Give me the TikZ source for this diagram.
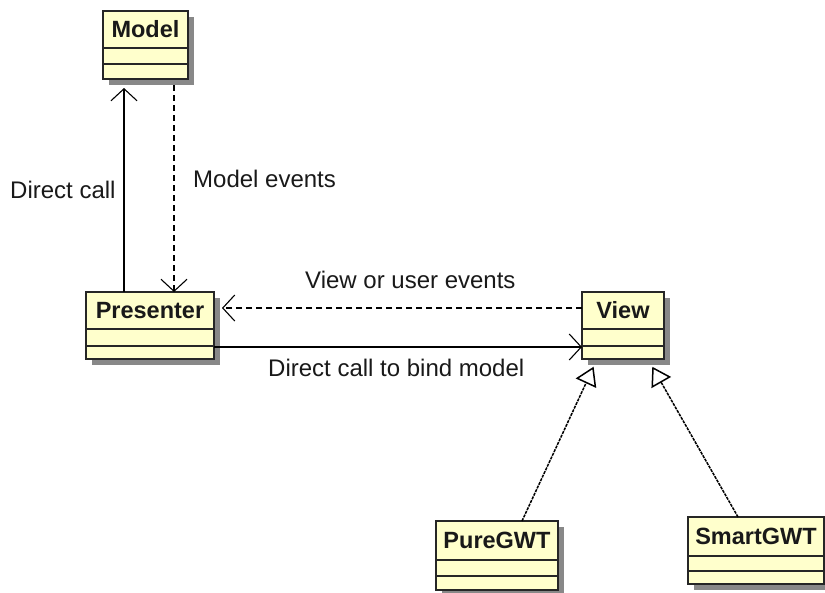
\documentclass[tikz,border=0pt]{standalone}
\usepackage{fontspec}
\setmainfont{Liberation Sans}
\usetikzlibrary{calc,arrows.meta,shadows}
\definecolor{classfill}{RGB}{255,255,204}
\definecolor{shadowgray}{RGB}{136,136,136}
\tikzset{
  classbox/.style={draw=black!85, line width=1.4pt, fill=classfill, outer sep=0pt, inner sep=0pt,
    drop shadow={shadow xshift=6pt, shadow yshift=-6pt, fill=shadowgray, opacity=1}},
  classname/.style={font=\fontsize{23.5}{28}\selectfont\bfseries, inner sep=0pt, text=black!90},
  classline/.style={draw=black!85, line width=1.4pt},
  lbl/.style={font=\fontsize{24}{28}\selectfont, inner sep=0pt, anchor=west, text=black!90},
  assoc/.style={line width=1.3pt, -{Straight Barb[length=12pt,width=26pt,line width=1.1pt]}},
  dep/.style={assoc, dash pattern=on 6pt off 4pt},
  realizeline/.style={line width=1.5pt, dash pattern=on 3pt off 1pt},
  trihead/.style={draw=black, line width=1.5pt, fill=white, line join=miter},
}
\newcommand{\umlclass}[8]{%
  \node[classbox, minimum width=#5pt, minimum height=#6pt+#7pt+#8pt, anchor=north west] (#1) at (#3pt,-#4pt) {};
  \node[classname] (#1-t) at ($(#1.north)+(0,-#6pt/2)$) {#2};
  \draw[classline] ($(#1.north west)+(0,-#6pt)$) -- ($(#1.north east)+(0,-#6pt)$);
  \draw[classline] ($(#1.north west)+(0,-#6pt-#7pt)$) -- ($(#1.north east)+(0,-#6pt-#7pt)$);
}
\begin{document}
\begin{tikzpicture}
\useasboundingbox (0,0) rectangle (825pt,-592pt);
\umlclass{model}{Model}{103}{11}{85}{37}{16}{15}
\umlclass{presenter}{Presenter}{86}{292}{128}{37}{17}{13}
\umlclass{view}{View}{582}{292}{82}{37}{17}{13}
\umlclass{pure}{PureGWT}{436}{521}{122}{39}{16}{14}
\umlclass{smart}{SmartGWT}{688}{517}{136}{39}{15}{13}

% associations
\draw[assoc] ($(presenter.north west)+(38pt,0)$) -- ($(model.south west)+(21pt,-9pt)$);
\draw[dep] ($(model.south west)+(71pt,-6pt)$) -- ($(presenter.north west)+(88pt,0)$);
\draw[dep] ($(view.north west)+(0,-16pt)$) -- ($(presenter.north east)+(8pt,-16pt)$);
\draw[assoc] ($(presenter.north east)+(0,-55pt)$) -- ($(view.north west)+(0,-55pt)$);

% realizations
\coordinate (s1) at ($(pure.north west)+(86pt,0)$);
\coordinate (t1) at ($(view.south west)+(11pt,-9pt)$);
\coordinate (b1) at ($(t1)!16pt!(s1)$);
\draw[realizeline] (s1) -- (b1);
\draw[trihead] (t1) -- ($(b1)!10pt!90:(t1)$) -- ($(b1)!10pt!-90:(t1)$) -- cycle;

\coordinate (s2) at ($(smart.north west)+(50pt,0)$);
\coordinate (t2) at ($(view.south west)+(71pt,-9pt)$);
\coordinate (b2) at ($(t2)!16pt!(s2)$);
\draw[realizeline] (s2) -- (b2);
\draw[trihead] (t2) -- ($(b2)!10pt!90:(t2)$) -- ($(b2)!10pt!-90:(t2)$) -- cycle;

% labels
\node[lbl] (l1) at (10pt,-190pt) {Direct call};
\node[lbl] (l2) at (193pt,-179pt) {Model events};
\node[lbl] (l3) at (305pt,-280pt) {View or user events};
\node[lbl] (l4) at (268pt,-368pt) {Direct call to bind model};
\end{tikzpicture}
\end{document}
